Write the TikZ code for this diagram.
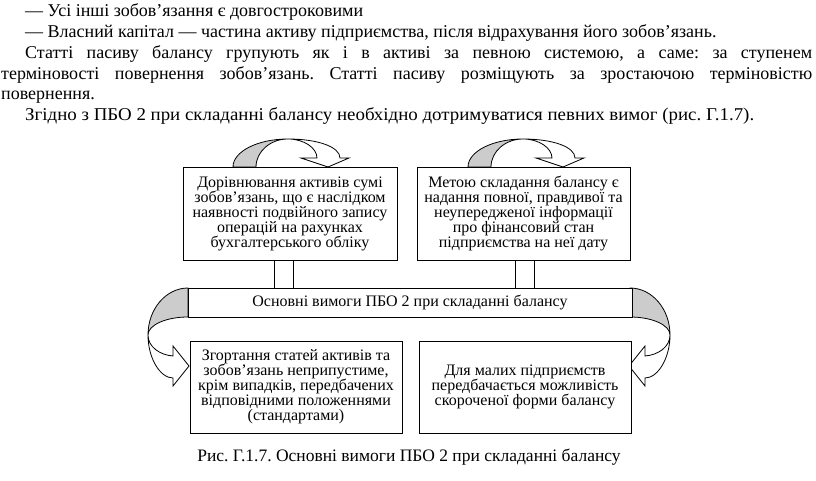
\documentclass[tikz,border=0pt]{standalone}
\usepackage{fontspec}
\setmainfont{Liberation Serif}
\usetikzlibrary{calc}
\frenchspacing
\tikzset{
  bodytext/.style={anchor=base west, inner sep=0pt, font=\fontsize{18}{20}\selectfont},
  boxnode/.style={draw, line width=0.9pt, fill=white, inner sep=0pt, align=center,
    font=\fontsize{16}{15}\selectfont},
  pipe/.style={line width=0.9pt},
  arrowband/.style={draw, line width=0.8pt, fill=gray!40},
  arrowfront/.style={draw, line width=0.8pt, fill=white},
}
\newcommand{\toparrow}[1]{%
  \begin{scope}[xshift=#1pt]
    \path[arrowband] (0,167) .. controls (0,151.5) and (24.6,139) .. (55,139)
      .. controls (37.3,139) and (23,151.5) .. (23,167) -- cycle;
    \path[arrowfront] (55,139) .. controls (85,139) and (107,147) .. (107,158)
      -- (116,158) -- (95,167) -- (68,158) -- (84,158)
      .. controls (84,148) and (71,139) .. (55,139) -- cycle;
  \end{scope}}
\newcommand{\sidearrow}{%
    \path[arrowband] (188,288) .. controls (166,288) and (148,309) .. (148,335)
      .. controls (148,325) and (166,317) .. (188,317) -- cycle;
    \path[arrowfront] (148,335) .. controls (148,358) and (160,378) .. (173,378)
      -- (173,386) -- (189,366) -- (173,346) -- (173,356)
      .. controls (160,355) and (148,347) .. (148,335) -- cycle;}
\begin{document}
\begin{tikzpicture}[x=1pt,y=-1pt]
\useasboundingbox[fill=white] (0,0) rectangle (816,481);
% body text
\node[bodytext] (l1) at (25,17) {— Усі інші зобов’язання є довгостроковими};
\node[bodytext] (l2) at (25,38) {— Власний капітал — частина активу підприємства, після відрахування його зобов’язань.};
\node[bodytext] (l3) at (25,59) {\makebox[787pt][s]{Статті пасиву балансу групують як і в активі за певною системою, а саме: за ступенем}};
\node[bodytext] (l4) at (1,80) {\makebox[811pt][s]{терміновості повернення зобов’язань. Статті пасиву розміщують за зростаючою терміновістю}};
\node[bodytext] (l5) at (1,100) {повернення.};
\node[bodytext] (l6) at (25,121) {\scalebox{1.05}[1]{Згідно з ПБО 2 при складанні балансу необхідно дотримуватися певних вимог (рис. Г.1.7).}};
% arrows behind boxes
\toparrow{233}
\toparrow{468}
\sidearrow
\begin{scope}[xshift=818pt, xscale=-1]
\sidearrow
\end{scope}
% boxes
\node[boxnode, minimum width=214pt, minimum height=93pt] (b1) at (290,213.5)
  {Дорівнювання активів сумі\\зобов’язань, що є наслідком\\наявності подвійного запису\\операцій на рахунках\\бухгалтерського обліку};
\node[boxnode, minimum width=213pt, minimum height=93pt] (b2) at (523.5,213.5)
  {Метою складання балансу є\\надання повної, правдивої та\\неупередженої інформації\\про фінансовий стан\\підприємства на неї дату};
\node[boxnode, minimum width=444pt, minimum height=29pt] (bar) at (410,302.5)
  {Основні вимоги ПБО 2 при складанні балансу};
\node[boxnode, minimum width=212pt, minimum height=92pt] (b3) at (296,387)
  {Згортання статей активів та\\зобов’язань неприпустиме,\\крім випадків, передбачених\\відповідними положеннями\\(стандартами)};
\node[boxnode, minimum width=212pt, minimum height=92pt] (b4) at (525,387)
  {Для малих підприємств\\передбачається можливість\\скороченої форми балансу};
% pipes
\coordinate (p1) at (274,0);
\coordinate (p2) at (293,0);
\coordinate (p3) at (515,0);
\coordinate (p4) at (534,0);
\draw[pipe] (b1.south -| p1) -- (bar.north -| p1);
\draw[pipe] (b1.south -| p2) -- (bar.north -| p2);
\draw[pipe] (b2.south -| p3) -- (bar.north -| p3);
\draw[pipe] (b2.south -| p4) -- (bar.north -| p4);
% caption
\node[anchor=base, inner sep=0pt, font=\fontsize{17.5}{19}\selectfont] (cap) at (409,461)
  {Рис. Г.1.7. Основні вимоги ПБО 2 при складанні балансу};
\end{tikzpicture}
\end{document}
